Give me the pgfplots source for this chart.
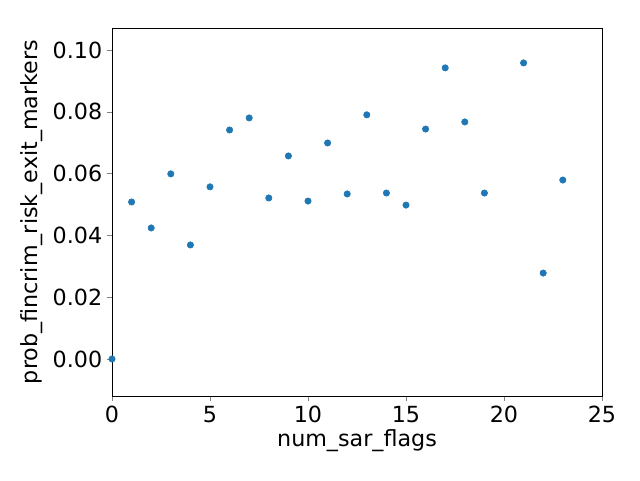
\documentclass[border=0pt]{standalone}
\usepackage{fontspec}
\setmainfont{DejaVu Sans}
\usepackage{pgfplots}
\pgfplotsset{compat=1.18}
\definecolor{mplblue}{HTML}{1F77B4}
\begin{document}
\begin{tikzpicture}
\begin{axis}[name=ax,
  scale only axis, width=352.8pt, height=265pt,
  xmin=0, xmax=25, ymin=-0.012, ymax=0.1071,
  xtick={0,5,...,25}, ytick={0,0.02,...,0.1},
  yticklabel style={/pgf/number format/.cd, fixed, fixed zerofill, precision=2},
  /pgf/number format/assume math mode=true,
  tick align=outside, major tick length=3.5pt,
  xtick pos=bottom, ytick pos=left,
  ticklabel style={font=\fontsize{16}{19}\selectfont},
  label style={font=\fontsize{16}{19}\selectfont},
  xlabel={num\_sar\_flags}, ylabel={prob\_fincrim\_risk\_exit\_markers},
  xlabel style={yshift=2pt},
  axis line style={line width=0.6pt},
  clip=false]
\addplot[only marks, mark=*, mark size=2.3pt, mplblue, mark options={draw=mplblue, fill=mplblue}]
coordinates {
(0,0.0) (1,0.0508) (2,0.0424) (3,0.0599) (4,0.0369) (5,0.0557)
(6,0.0741) (7,0.0780) (8,0.0521) (9,0.0657) (10,0.0511) (11,0.0699)
(12,0.0534) (13,0.0790) (14,0.0537) (15,0.0498) (16,0.0744) (17,0.0942)
(18,0.0767) (19,0.0537) (21,0.0958) (22,0.0278) (23,0.0579)
};
\end{axis}
\path ([xshift=-80.64pt,yshift=-60.48pt]ax.south west) rectangle ([xshift=27.36pt,yshift=20.16pt]ax.north east);
\end{tikzpicture}
\end{document}
